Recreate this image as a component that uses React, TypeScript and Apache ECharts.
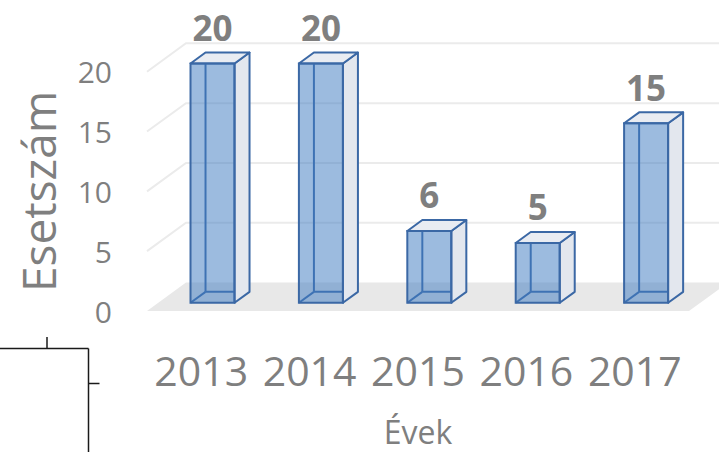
import React, { useEffect, useRef } from "react";
import * as echarts from "echarts";

const categories = ["2013", "2014", "2015", "2016", "2017"];
const cases = [20, 20, 6, 5, 15];
const yTicks = [0, 5, 10, 15, 20];

const FONT = '"Open Sans", "Liberation Sans", sans-serif';
const DEPTH = [39, -28.4];
const BAR_FRONT = 0.29;
const BAR_BACK = 0.675;
const BAR_W = 0.406;
const EDGE = "#3b68a5";

export default function App() {
  const ref = useRef<HTMLDivElement>(null);
  useEffect(() => {
    const chart = echarts.init(ref.current!, null, { renderer: "svg" });
    const option: any = {
      animation: false,
      backgroundColor: "#ffffff",
      grid: { left: 147, right: 30, top: 71.7, bottom: 140.3, containLabel: false },
      xAxis: {
        type: "category",
        data: categories,
        axisLine: { show: false },
        axisTick: { show: false },
        axisLabel: {
          color: "#7f7f7f",
          fontSize: 41,
          fontFamily: FONT,
          margin: 38,
          interval: 0,
          hideOverlap: false,
        },
        name: "Évek",
        nameLocation: "middle",
        nameGap: 104,
        nameTextStyle: { color: "#7f7f7f", fontSize: 32, fontFamily: FONT },
      },
      yAxis: {
        type: "value",
        min: 0,
        max: 20,
        interval: 5,
        axisLine: { show: false },
        axisTick: { show: false },
        splitLine: { show: false },
        axisLabel: { color: "#7f7f7f", fontSize: 30, fontFamily: FONT, margin: 35 },
        name: "Esetszám",
        nameLocation: "middle",
        nameGap: 86,
        nameTextStyle: { color: "#7f7f7f", fontSize: 46, fontFamily: FONT },
      },
      graphic: [
        { type: "line", shape: { x1: 0, y1: 348.5, x2: 88.5, y2: 348.5 }, style: { stroke: "#1a1a1a", lineWidth: 1.5 } },
        { type: "line", shape: { x1: 88.5, y1: 348.5, x2: 88.5, y2: 452 }, style: { stroke: "#1a1a1a", lineWidth: 1.5 } },
        { type: "line", shape: { x1: 47, y1: 337, x2: 47, y2: 348.5 }, style: { stroke: "#1a1a1a", lineWidth: 1.5 } },
        { type: "line", shape: { x1: 88.5, y1: 383.5, x2: 99.5, y2: 383.5 }, style: { stroke: "#1a1a1a", lineWidth: 1.5 } },
      ],
      series: [
        {
          type: "custom",
          name: "walls",
          clip: false,
          silent: true,
          z: 1,
          data: yTicks.map((v) => [0, v]),
          renderItem: (params: any, api: any) => {
            const cs = params.coordSys;
            const v = api.value(1);
            const y = api.coord([0, v])[1];
            const x0 = cs.x;
            const x1 = cs.x + cs.width;
            if (v === 0) {
              return {
                type: "polygon",
                shape: {
                  points: [
                    [x0, y],
                    [x0 + DEPTH[0], y + DEPTH[1]],
                    [x1 + DEPTH[0], y + DEPTH[1]],
                    [x1, y],
                  ],
                },
                style: { fill: "#e8e8e8", stroke: null },
              };
            }
            return {
              type: "polyline",
              shape: {
                points: [
                  [x0, y],
                  [x0 + DEPTH[0], y + DEPTH[1]],
                  [api.getWidth(), y + DEPTH[1]],
                ],
              },
              style: { stroke: "#ebebeb", lineWidth: 2, fill: null },
            };
          },
        },
        {
          type: "custom",
          name: "Esetszám",
          clip: false,
          z: 2,
          data: cases.map((v, i) => [i, v]),
          renderItem: (params: any, api: any) => {
            const idx = api.value(0);
            const val = api.value(1);
            const c = api.coord([idx, 0]);
            const t = api.coord([idx, val]);
            const bw = api.size([1, 0])[0] * BAR_W;
            const fx = DEPTH[0] * BAR_FRONT;
            const fy = DEPTH[1] * BAR_FRONT;
            const dx = DEPTH[0] * (BAR_BACK - BAR_FRONT);
            const dy = DEPTH[1] * (BAR_BACK - BAR_FRONT);
            const xa = c[0] + fx - bw / 2;
            const xb = c[0] + fx + bw / 2;
            const yb = c[1] + fy;
            const yt = t[1] + fy;
            const lw = 2;
            return {
              type: "group",
              children: [
                { type: "line", shape: { x1: xa + dx, y1: yt + dy, x2: xa + dx, y2: yb + dy }, style: { stroke: EDGE, lineWidth: lw } },
                { type: "line", shape: { x1: xa + dx, y1: yb + dy, x2: xb + dx, y2: yb + dy }, style: { stroke: EDGE, lineWidth: lw } },
                { type: "line", shape: { x1: xa, y1: yb, x2: xa + dx, y2: yb + dy }, style: { stroke: EDGE, lineWidth: lw } },
                {
                  type: "polygon",
                  shape: { points: [[xb, yb], [xb, yt], [xb + dx, yt + dy], [xb + dx, yb + dy]] },
                  style: { fill: "#e3e7ee", stroke: EDGE, lineWidth: lw, lineJoin: "round" },
                },
                {
                  type: "polygon",
                  shape: { points: [[xa, yt], [xb, yt], [xb + dx, yt + dy], [xa + dx, yt + dy]] },
                  style: { fill: "#e9ecf2", stroke: EDGE, lineWidth: lw, lineJoin: "round" },
                },
                {
                  type: "rect",
                  shape: { x: xa, y: yt, width: bw, height: yb - yt },
                  style: { fill: "rgba(66,124,194,0.52)", stroke: EDGE, lineWidth: lw },
                },
                {
                  type: "text",
                  style: {
                    text: String(val),
                    x: (xa + xb) / 2,
                    y: yt - 36,
                    align: "center",
                    verticalAlign: "middle",
                    fill: "#7f7f7f",
                    fontSize: 35,
                    fontWeight: "bold",
                    fontFamily: FONT,
                  },
                },
              ],
            };
          },
        },
      ],
    };
    chart.setOption(option);
    return () => chart.dispose();
  }, []);
  return (
    <div
      ref={ref}
      style={{ position: "absolute", left: 0, top: 0, width: 719, height: 452, background: "#fff" }}
    />
  );
}
